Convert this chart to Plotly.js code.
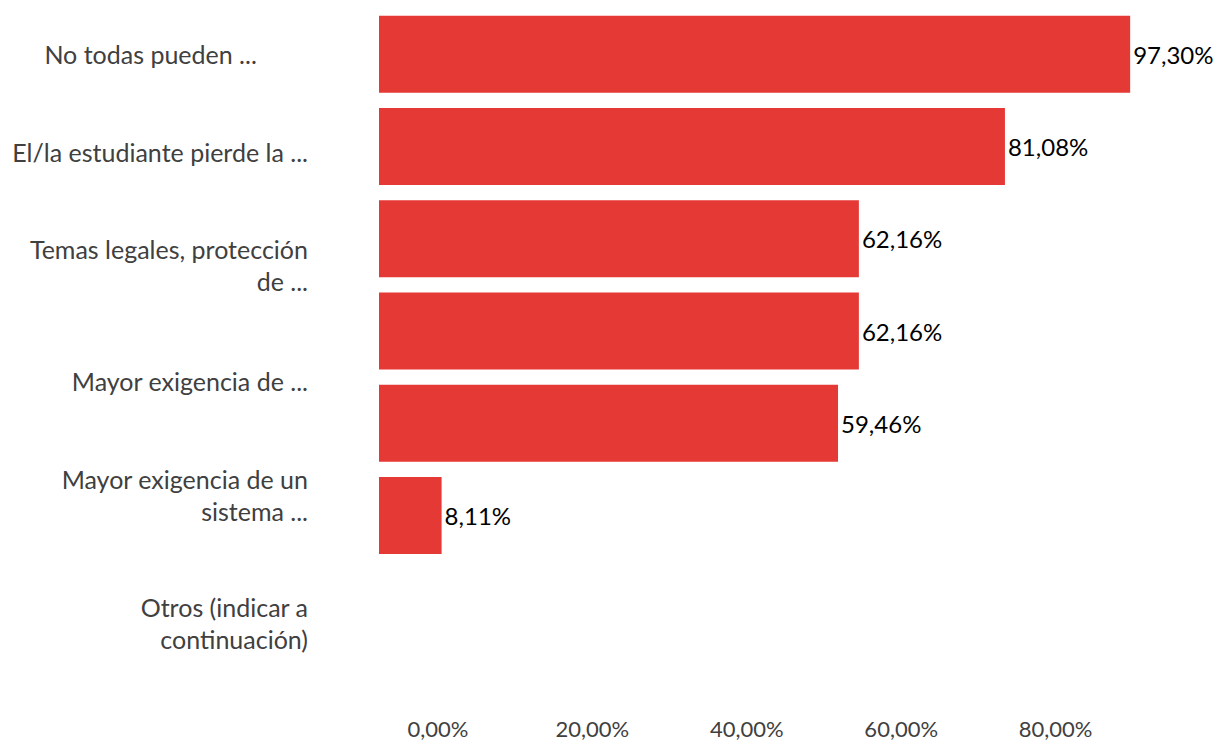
<!DOCTYPE html>
<html>
<head>
<meta charset="utf-8">
<script src="https://cdn.plot.ly/plotly-3.0.1.min.js"></script>
<style>html,body{margin:0;padding:0;background:#fff;}#chart{width:1214px;height:745px;}</style>
</head>
<body>
<div id="chart"></div>
<script>
// Bars (top to bottom)
const barKeys = [
  'No todas pueden ...',
  'El/la estudiante pierde la ...',
  'Temas legales, protección de ...',
  'sin etiqueta',
  'Mayor exigencia de ...',
  'Mayor exigencia de un sistema ...',
  'Otros (indicar a continuación)'
];
const values = [0.9730, 0.8108, 0.6216, 0.6216, 0.5946, 0.0811, 0];

// Category labels as drawn on the axis (one bar has no label)
const axisLabels = [
  'No todas pueden ...\u00a0\u00a0\u00a0\u00a0\u00a0\u00a0\u00a0\u00a0',
  'El/la estudiante pierde la ...',
  'Temas legales, protección<br>de ...',
  'Mayor exigencia de ...',
  'Mayor exigencia de un<br>sistema ...',
  'Otros (indicar a<br>continuación)'
];
const xTicks = [0, 0.2, 0.4, 0.6, 0.8];

const trace = {
  type: 'bar',
  orientation: 'h',
  x: values,
  y: barKeys,
  marker: {color: '#E53935'},
  texttemplate: values.map(v => v > 0 ? '%{x:.2%}' : ''),
  textposition: 'outside',
  cliponaxis: false,
  textfont: {family: 'Lato, sans-serif', size: 24, color: '#000000'},
  hoverinfo: 'skip'
};

const layout = {
  width: 1214,
  height: 745,
  margin: {l: 379, r: 63, t: 8, b: 91},
  paper_bgcolor: '#ffffff',
  plot_bgcolor: '#ffffff',
  separators: ',.',
  showlegend: false,
  bargap: 0.166,
  font: {family: 'Lato, sans-serif', color: '#404040'},
  xaxis: {
    range: [0, 1],
    tickvals: xTicks,
    tickformat: '.2%',
    showgrid: false,
    zeroline: false,
    showline: false,
    ticks: '',
    ticklabelstandoff: 60,
    ticklabelshift: 59,
    tickfont: {size: 22, color: '#404040'}
  },
  yaxis: {
    type: 'category',
    autorange: 'reversed',
    tickvals: [0.01, 1.07, 2.3, 3.56, 4.79, 6.18],
    ticktext: axisLabels,
    showgrid: false,
    zeroline: false,
    showline: false,
    ticks: '',
    ticklabelstandoff: 70,
    tickfont: {size: 25, color: '#404040'}
  }
};

Plotly.newPlot('chart', [trace], layout, {displayModeBar: false, staticPlot: true});
</script>
</body>
</html>
